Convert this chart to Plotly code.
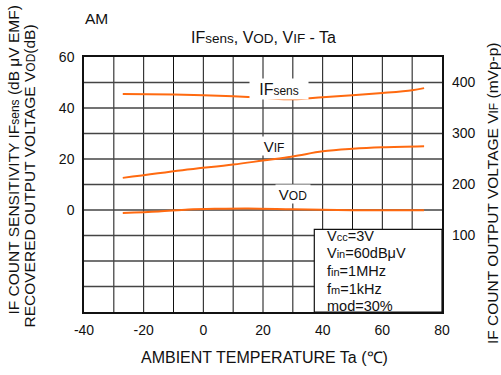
import plotly.graph_objects as go

# ---- data ----
ta_ifsens = [-27, -10, 0, 10, 20, 30, 40, 50, 60, 70, 74]
ifsens = [45.5, 45.3, 45.0, 44.6, 44.0, 43.4, 44.2, 45.0, 45.9, 47.0, 47.8]

ta_vif = [-27, -7, 10, 20, 30, 40, 50, 60, 74]
vif = [213, 228, 239, 247, 255, 265, 270, 273, 275]

ta_vod = [-27, -15, -5, 5, 15, 30, 50, 74]
vod = [-1.2, -0.6, 0.2, 0.5, 0.6, 0.3, -0.1, -0.1]

x_ticks = [-40, -20, 0, 20, 40, 60, 80]
x_ticktext = ["-40", "-20", "0", "20", "40", "60", "80"]
left_ticks = [0, 20, 40, 60]
right_ticks = [100, 200, 300, 400]

cond_lines = [
    "V<span style='font-size:11px'>cc</span>=3V",
    "V<span style='font-size:11px'>in</span>=60dB\u03bcV",
    "f<span style='font-size:11px'>in</span>=1MHz",
    "f<span style='font-size:11px'>m</span>=1kHz",
    "mod=30%",
]

ORANGE = "#ff6a10"
FONT = "Liberation Sans, Arial, sans-serif"
W, H = 501, 375
PX0, PX1, PY0, PY1 = 84, 442, 57, 312   # plot area in window pixels
L, R, T, B = PX0, W - PX1, PY0, H - PY1
PW, PH = PX1 - PX0, PY1 - PY0


def px(xp):
    return (xp - PX0) / PW


def py(yp):
    return (PY1 - yp) / PH


def sm(s, size=12):
    return f"<span style='font-size:{size}px'>{s}</span>"


fig = go.Figure()
fig.add_trace(go.Scatter(x=ta_ifsens, y=ifsens, mode="lines",
                         line=dict(color=ORANGE, width=2), line_shape="spline",
                         showlegend=False, hoverinfo="skip"))
fig.add_trace(go.Scatter(x=ta_vod, y=vod, mode="lines",
                         line=dict(color=ORANGE, width=2), line_shape="spline",
                         showlegend=False, hoverinfo="skip"))
fig.add_trace(go.Scatter(x=ta_vif, y=vif, mode="lines", yaxis="y2",
                         line=dict(color=ORANGE, width=2), line_shape="spline",
                         showlegend=False, hoverinfo="skip"))

fig.update_layout(
    width=W, height=H,
    margin=dict(l=L, r=R, t=T, b=B, pad=0, autoexpand=False),
    paper_bgcolor="white", plot_bgcolor="white",
    font=dict(family=FONT, size=14, color="#111"),
    xaxis=dict(range=[-40, 80], tickmode="array", tickvals=x_ticks,
               ticktext=x_ticktext, showgrid=False, zeroline=False,
               showline=True, linecolor="#111", linewidth=1.5, mirror=True,
               ticks="", ticklabelstandoff=4, tickfont=dict(size=14),
               automargin=False),
    yaxis=dict(range=[-40, 60], tickmode="array", tickvals=left_ticks,
               showgrid=False, zeroline=False,
               showline=True, linecolor="#111", linewidth=1.5, mirror=True,
               ticks="", ticklabelstandoff=5, tickfont=dict(size=14),
               automargin=False),
    yaxis2=dict(range=[-50, 450], overlaying="y", side="right",
                tickmode="array", tickvals=right_ticks, showgrid=False,
                zeroline=False, showline=False, ticks="",
                ticklabelstandoff=9, tickfont=dict(size=14),
                automargin=False),
)

shapes = []
# vertical grid lines every 10 degrees
for v in range(-30, 80, 10):
    shapes.append(dict(type="line", xref="x", yref="paper", x0=v, x1=v, y0=0, y1=1,
                       line=dict(color="#111", width=1), layer="below"))
# horizontal grid lines every 10 on the left scale
for v in range(-30, 60, 10):
    shapes.append(dict(type="line", xref="paper", yref="y", x0=0, x1=1, y0=v, y1=v,
                       line=dict(color="#444", width=1.5), layer="below"))
# condition box
shapes.append(dict(type="rect", xref="paper", yref="paper",
                   x0=px(314.3), x1=1, y0=0, y1=py(229.3),
                   fillcolor="white", line=dict(color="#111", width=1.2), layer="above"))
fig.update_layout(shapes=shapes)

ann = []
# condition text
ys = [236, 253, 271, 289, 306]
for t, yy in zip(cond_lines, ys):
    ann.append(dict(text=t, xref="paper", yref="paper", x=px(325), y=py(yy),
                    xanchor="left", yanchor="middle", showarrow=False,
                    font=dict(size=14.5)))
# curve labels
ann.append(dict(text="IF" + sm("sens"), xref="paper", yref="paper",
                x=px(279), y=py(77.5), showarrow=False, bgcolor="white",
                width=56, height=18, font=dict(size=16)))
ann.append(dict(text="V" + sm("IF"), xref="paper", yref="paper",
                x=px(274), y=py(136), showarrow=False, bgcolor="white",
                width=30, height=16, font=dict(size=15)))
ann.append(dict(text="V" + sm("OD"), xref="paper", yref="paper",
                x=px(293), y=py(193.5), showarrow=False, bgcolor="white",
                width=32, height=16, font=dict(size=15)))
# title and AM
ann.append(dict(text="IF" + sm("sens", 13.5) + ", V" + sm("OD", 13.5) + ", V"
                + sm("IF", 13.5) + " - Ta",
                xref="paper", yref="paper", x=px(263.5), y=py(37),
                xanchor="center", yanchor="middle", showarrow=False,
                font=dict(size=16)))
ann.append(dict(text="AM", xref="paper", yref="paper", x=px(83), y=py(18),
                xanchor="left", yanchor="middle", showarrow=False,
                font=dict(size=15.5)))
# axis titles
ann.append(dict(text="AMBIENT TEMPERATURE Ta (\u2103)", xref="paper", yref="paper",
                x=px(264), y=py(357), xanchor="center", yanchor="middle",
                showarrow=False, font=dict(size=16)))
ann.append(dict(text="IF COUNT SENSITIVITY IF" + sm("sens") + " (dB \u03bcV EMF)",
                xref="paper", yref="paper", x=px(12.5), y=py(160),
                xanchor="center", yanchor="middle", textangle=-90,
                showarrow=False, font=dict(size=15.5)))
ann.append(dict(text="RECOVERED OUTPUT VOLTAGE V" + sm("OD") + "(dB)",
                xref="paper", yref="paper", x=px(28.5), y=py(176),
                xanchor="center", yanchor="middle", textangle=-90,
                showarrow=False, font=dict(size=15.5)))
ann.append(dict(text="IF COUNT OUTPUT VOLTAGE V" + sm("IF") + " (mVp-p)",
                xref="paper", yref="paper", x=px(492.5), y=py(193.5),
                xanchor="center", yanchor="middle", textangle=-90,
                showarrow=False, font=dict(size=15.5)))
fig.update_layout(annotations=ann)

fig.write_html("out.html", config={"displayModeBar": False},
               post_script="document.body.style.margin='0px';"
                           "document.body.style.overflow='hidden';")
